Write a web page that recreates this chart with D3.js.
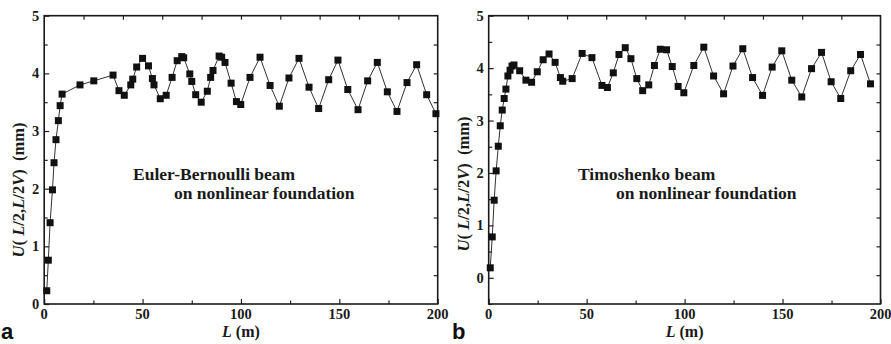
<!DOCTYPE html>
<html><head><meta charset="utf-8">
<script src="https://cdn.jsdelivr.net/npm/d3@7/dist/d3.min.js"></script>
<style>
body{margin:0;background:#fff;}
svg{display:block;}
</style></head>
<body>
<svg id="chart" width="891" height="344"></svg>
<script>
// Panel a: Euler-Bernoulli beam
const eulerL = [1.3,2.1,3.0,4.2,5.0,6.0,7.2,8.1,9.1,18.2,25.2,35,38,40.7,44,45,47,50,53,55,55.8,59,62,65,67.6,69.9,70.9,74,75,77,79.8,82.9,84.6,85.8,88.9,90.2,91.9,95,97.7,99.9,104.6,109.7,114.8,119.5,124.4,129.5,134.6,139.5,144.6,149.3,154.3,159.5,164.4,169.3,174.4,179.3,184.4,189.3,194.4,199.1];
const eulerU = [0.23,0.76,1.41,1.98,2.45,2.85,3.18,3.44,3.64,3.80,3.87,3.97,3.70,3.62,3.80,3.90,4.11,4.26,4.13,3.91,3.80,3.56,3.62,3.93,4.22,4.29,4.27,3.99,3.86,3.63,3.50,3.69,3.93,4.05,4.30,4.28,4.19,3.83,3.51,3.46,3.93,4.28,3.79,3.43,3.92,4.26,3.76,3.39,3.89,4.23,3.72,3.37,3.87,4.19,3.68,3.34,3.84,4.15,3.63,3.30];
// Panel b: Timoshenko beam
const timoL = [0.8,1.8,2.8,3.8,4.9,5.9,6.9,7.9,8.8,9.8,10.9,11.9,12.9,15.8,19,21.9,24.8,27.8,30.8,33.9,36.6,37.8,42.6,47.7,52.7,57.8,60.6,63.6,66.5,69.7,72.6,75.6,78.6,81.7,84.6,87.6,90.8,93.7,96.7,99.6,104.7,109.8,114.8,119.9,124.7,129.7,134.7,139.8,144.7,149.6,154.7,159.8,164.8,169.9,174.8,179.7,184.8,189.8,194.9];
const timoU = [0.19,0.78,1.48,2.04,2.51,2.90,3.20,3.42,3.60,3.85,3.96,4.04,4.06,3.95,3.77,3.73,3.93,4.16,4.27,4.11,3.82,3.75,3.80,4.28,4.20,3.67,3.63,3.91,4.26,4.39,4.18,3.80,3.57,3.68,4.05,4.36,4.35,4.03,3.65,3.53,4.05,4.40,3.85,3.51,4.04,4.37,3.82,3.48,4.02,4.33,3.77,3.45,3.99,4.30,3.74,3.42,3.95,4.26,3.70];

const xTickLabels = [0,50,100,150,200];
const yTicksA = [0,1,2,3,4,5];
const yTicksB = [0,1,2,3,4,5];
const xDomain = [0,200];
const yDomainA = [0,5];
const yDomainB = [-0.5,5];
const annotA = ["Euler-Bernoulli beam","on nonlinear foundation"];
const annotB = ["Timoshenko beam","on nonlinear foundation"];
const panelLetters = ["a","b"];

const SERIF = "Liberation Serif";
const svg = d3.select("#chart");

function T(sel){
  return sel.attr("font-family",SERIF).attr("font-weight","bold").attr("fill","#1a1a1a");
}

function drawPanel(opt){
  const g = svg.append("g");
  const x = d3.scaleLinear().domain(xDomain).range([opt.left, opt.right]);
  const y = d3.scaleLinear().domain(opt.yDomain).range([opt.bottom, opt.top]);
  const w = opt.right-opt.left, h = opt.bottom-opt.top;
  const tickCol = "#222";

  // bottom axis (inward ticks)
  const bx = g.append("g").attr("transform",`translate(0,${opt.bottom})`);
  bx.call(d3.axisBottom(x).tickValues(d3.range(0,201,25)).tickSize(-5).tickFormat(""));
  bx.selectAll(".tick line").attr("stroke",tickCol).attr("stroke-width",1.2)
    .attr("y2", d => d%50===0 ? -5 : -3.5);
  bx.select(".domain").remove();
  T(g.selectAll(null).data(xTickLabels).join("text"))
    .attr("x", d=>x(d)).attr("y", opt.bottom+15).attr("text-anchor","middle")
    .attr("font-size","14.5px").text(d=>d);

  // top axis: 10 divisions
  const tx = g.append("g").attr("transform",`translate(0,${opt.top})`);
  tx.call(d3.axisTop(x).tickValues(d3.range(20,200,20)).tickSize(-4).tickFormat(""));
  tx.selectAll(".tick line").attr("stroke",tickCol).attr("stroke-width",1.2);
  tx.select(".domain").remove();

  // left axis
  const yd = opt.yDomain;
  const minorVals = d3.range(Math.ceil(yd[0]*2)/2, yd[1]+0.001, 0.5);
  const ly = g.append("g").attr("transform",`translate(${opt.left},0)`);
  ly.call(d3.axisLeft(y).tickValues(minorVals).tickSize(-5).tickFormat(""));
  ly.selectAll(".tick line").attr("stroke",tickCol).attr("stroke-width",1.2)
    .attr("x2", d => Math.abs(d-Math.round(d))<1e-6 ? 5 : 3.5);
  ly.select(".domain").remove();
  T(g.selectAll(null).data(opt.yTicks).join("text"))
    .attr("x", opt.left-5).attr("y", d=>y(d)+5).attr("text-anchor","end")
    .attr("font-size","14.5px").text(d=>d);

  // right axis: 10 equal divisions of the frame
  const rs = d3.scaleLinear().domain([0,10]).range([opt.bottom,opt.top]);
  const ry = g.append("g").attr("transform",`translate(${opt.right},0)`);
  ry.call(d3.axisRight(rs).tickValues(d3.range(1,10)).tickSize(-4).tickFormat(""));
  ry.selectAll(".tick line").attr("stroke",tickCol).attr("stroke-width",1.2);
  ry.select(".domain").remove();

  // frame
  g.append("rect").attr("x",opt.left).attr("y",opt.top).attr("width",w).attr("height",h)
    .attr("fill","none").attr("stroke","#1a1a1a").attr("stroke-width",1.6);

  // data
  const pts = opt.xs.map((v,i)=>[v,opt.ys[i]]);
  g.append("path").datum(pts)
    .attr("d", d3.line().x(d=>x(d[0])).y(d=>y(d[1])))
    .attr("fill","none").attr("stroke","#333").attr("stroke-width",1);
  const s = 7;
  g.selectAll(null).data(pts).join("rect")
    .attr("x", d=>x(d[0])-s/2).attr("y", d=>y(d[1])-s/2)
    .attr("width",s).attr("height",s).attr("fill","#111");

  // axis titles
  const xt = T(g.append("text")).attr("x",(opt.left+opt.right)/2).attr("y",opt.bottom+33)
    .attr("text-anchor","middle").attr("font-size","16px");
  xt.append("tspan").attr("font-style","italic").text("L");
  xt.append("tspan").text(" (m)");

  const yt = T(g.append("text"))
    .attr("transform",`translate(${opt.ylabX},${opt.ylabY}) rotate(-90)`)
    .attr("text-anchor","middle").attr("font-size","16.5px").style("white-space","pre");
  [["U",1],["( ",0],["L",1],["/2,",0],["L",1],["/2",0],["V",1],[")  (mm)",0]].forEach(p=>{
    yt.append("tspan").attr("font-style",p[1]?"italic":"normal").text(p[0]);
  });

  // annotation
  T(g.append("text")).attr("x",opt.ann1X).attr("y",180).attr("font-size","17.5px").text(opt.ann[0]);
  T(g.append("text")).attr("x",opt.ann2X).attr("y",198.5).attr("font-size","17.5px").text(opt.ann[1]);

  // panel letter
  svg.append("text").attr("x",opt.letterX).attr("y",339)
    .attr("font-family","Liberation Sans").attr("font-weight","bold")
    .attr("font-size","22px").attr("fill","#111").text(opt.letter);
}

drawPanel({left:44.2,right:437.7,top:15.7,bottom:304,yDomain:yDomainA,yTicks:yTicksA,
  xs:eulerL,ys:eulerU,ann:annotA,ann1X:133,ann2X:174,ylabX:24,ylabY:190,letterX:1,letter:panelLetters[0]});
drawPanel({left:488.7,right:880.5,top:15.7,bottom:304,yDomain:yDomainB,yTicks:yTicksB,
  xs:timoL,ys:timoU,ann:annotB,ann1X:578,ann2X:616,ylabX:469,ylabY:184,letterX:452,letter:panelLetters[1]});
</script>
</body></html>
